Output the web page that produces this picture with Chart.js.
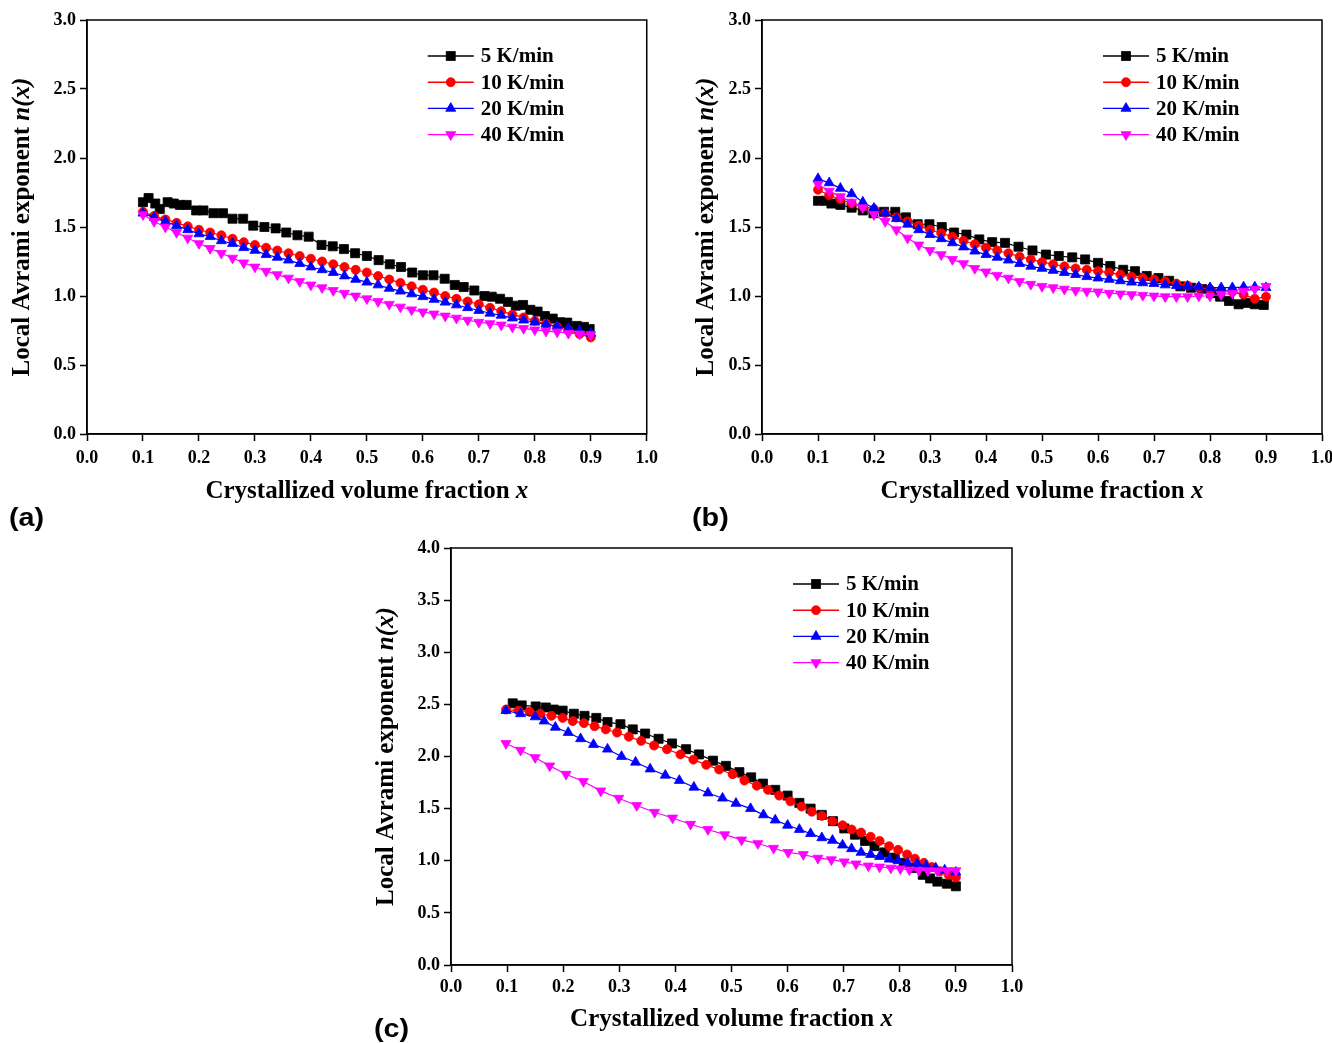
<!DOCTYPE html>
<html><head><meta charset="utf-8">
<script src="https://cdn.jsdelivr.net/npm/chart.js@4"></script>
<style>
html,body{margin:0;padding:0;background:#fff;width:1332px;height:1043px;overflow:hidden;position:relative;}
canvas{position:absolute;display:block;}
.lbl{position:absolute;font-family:'Liberation Sans',Arial,sans-serif;font-weight:bold;font-size:25px;color:#000;line-height:28px;z-index:5;transform-origin:0 0;transform:scaleX(1.15);}
</style></head><body>
<canvas id="ca" width="665" height="510" style="left:0;top:0"></canvas>
<canvas id="cb" width="675" height="510" style="left:675px;top:0"></canvas>
<canvas id="cc" width="665" height="510" style="left:365px;top:530px"></canvas>
<div class="lbl" style="left:9px;top:503px">(a)</div>
<div class="lbl" style="left:692px;top:503px">(b)</div>
<div class="lbl" style="left:374px;top:1014px">(c)</div>
<script>
// ---------- data ----------
const seriesLabels = ['5 K/min', '10 K/min', '20 K/min', '40 K/min'];
const xTicks = ['0.0','0.1','0.2','0.3','0.4','0.5','0.6','0.7','0.8','0.9','1.0'];
const yTicksAB = ['0.0','0.5','1.0','1.5','2.0','2.5','3.0'];
const yTicksC = ['0.0','0.5','1.0','1.5','2.0','2.5','3.0','3.5','4.0'];

const gridX = [0.10,0.12,0.14,0.16,0.18,0.20,0.22,0.24,0.26,0.28,0.30,0.32,0.34,0.36,0.38,0.40,0.42,0.44,0.46,0.48,0.50,0.52,0.54,0.56,0.58,0.60,0.62,0.64,0.66,0.68,0.70,0.72,0.74,0.76,0.78,0.80,0.82,0.84,0.86,0.88,0.90];

// panel (a)
const aBlackX = [0.100,0.110,0.122,0.130,0.144,0.155,0.166,0.178,0.195,0.208,0.226,0.243,0.260,0.279,0.297,0.317,0.337,0.356,0.376,0.396,0.419,0.439,0.459,0.479,0.500,0.521,0.541,0.561,0.581,0.600,0.619,0.639,0.657,0.673,0.692,0.710,0.723,0.738,0.752,0.766,0.779,0.792,0.805,0.818,0.832,0.845,0.858,0.875,0.888,0.898];
const aBlackY = [1.68,1.71,1.67,1.63,1.68,1.67,1.66,1.66,1.62,1.62,1.60,1.60,1.56,1.56,1.51,1.50,1.49,1.46,1.44,1.43,1.37,1.36,1.34,1.31,1.29,1.26,1.23,1.21,1.17,1.15,1.15,1.125,1.08,1.065,1.04,1.00,0.995,0.98,0.957,0.93,0.935,0.90,0.887,0.855,0.836,0.81,0.807,0.783,0.776,0.76];
const aRedY = [1.61,1.58,1.555,1.53,1.505,1.48,1.46,1.44,1.415,1.39,1.37,1.35,1.33,1.31,1.29,1.27,1.25,1.23,1.21,1.19,1.17,1.145,1.12,1.095,1.07,1.045,1.025,1.00,0.98,0.96,0.94,0.915,0.89,0.865,0.845,0.82,0.80,0.775,0.75,0.725,0.70];
const aBlueY = [1.60,1.57,1.54,1.51,1.48,1.45,1.43,1.40,1.38,1.35,1.33,1.30,1.28,1.26,1.235,1.21,1.19,1.17,1.145,1.12,1.10,1.08,1.055,1.035,1.015,0.995,0.975,0.955,0.935,0.915,0.895,0.875,0.86,0.84,0.825,0.81,0.795,0.78,0.765,0.75,0.73];
const aPinkY = [1.59,1.54,1.50,1.46,1.42,1.38,1.345,1.31,1.275,1.24,1.21,1.18,1.155,1.13,1.105,1.08,1.06,1.04,1.02,1.00,0.98,0.96,0.94,0.92,0.90,0.885,0.87,0.855,0.84,0.825,0.81,0.80,0.79,0.775,0.765,0.755,0.745,0.74,0.73,0.725,0.72];

// panel (b)
const bBlackX = [0.100,0.114,0.124,0.140,0.160,0.180,0.199,0.218,0.238,0.257,0.278,0.299,0.321,0.343,0.365,0.388,0.411,0.434,0.458,0.483,0.507,0.530,0.554,0.577,0.600,0.622,0.645,0.666,0.687,0.708,0.727,0.747,0.766,0.786,0.802,0.818,0.834,0.851,0.864,0.880,0.896];
const bBlackY = [1.69,1.69,1.67,1.66,1.64,1.62,1.60,1.61,1.61,1.57,1.52,1.52,1.50,1.46,1.445,1.41,1.39,1.385,1.357,1.33,1.30,1.29,1.28,1.265,1.24,1.217,1.19,1.18,1.145,1.13,1.11,1.07,1.06,1.05,1.02,0.995,0.964,0.94,0.95,0.94,0.935];
const bRedY = [1.77,1.73,1.70,1.67,1.65,1.63,1.60,1.57,1.54,1.51,1.48,1.455,1.43,1.40,1.375,1.35,1.33,1.31,1.285,1.265,1.245,1.23,1.215,1.20,1.19,1.18,1.17,1.155,1.14,1.13,1.12,1.105,1.09,1.075,1.06,1.05,1.04,1.03,1.01,0.98,0.995];
const bBlueY = [1.85,1.82,1.78,1.74,1.68,1.635,1.60,1.56,1.52,1.48,1.445,1.415,1.385,1.355,1.325,1.30,1.28,1.26,1.235,1.215,1.20,1.185,1.17,1.155,1.14,1.13,1.12,1.11,1.10,1.095,1.09,1.08,1.075,1.07,1.065,1.06,1.06,1.06,1.065,1.065,1.06];
const bPinkY = [1.81,1.76,1.72,1.68,1.64,1.59,1.54,1.48,1.42,1.37,1.33,1.30,1.265,1.235,1.20,1.175,1.15,1.13,1.105,1.085,1.07,1.06,1.05,1.04,1.035,1.03,1.02,1.015,1.01,1.005,1.00,0.995,0.995,0.995,1.00,1.00,1.01,1.02,1.035,1.05,1.07];

// panel (c)
const cBlackX = [0.110,0.126,0.151,0.169,0.183,0.199,0.219,0.238,0.259,0.279,0.302,0.324,0.346,0.370,0.394,0.419,0.442,0.467,0.490,0.514,0.535,0.556,0.578,0.600,0.621,0.641,0.661,0.681,0.701,0.720,0.738,0.755,0.773,0.791,0.807,0.824,0.841,0.854,0.867,0.884,0.900];
const cBlackY = [2.51,2.49,2.48,2.47,2.45,2.44,2.41,2.39,2.37,2.33,2.31,2.26,2.22,2.17,2.125,2.07,2.02,1.96,1.91,1.85,1.80,1.74,1.68,1.625,1.555,1.50,1.44,1.38,1.31,1.25,1.19,1.14,1.08,1.03,0.98,0.93,0.865,0.83,0.80,0.78,0.755];
const cRedX = [0.098,0.120,0.140,0.159,0.179,0.199,0.217,0.237,0.256,0.276,0.296,0.317,0.339,0.362,0.385,0.409,0.432,0.455,0.478,0.502,0.523,0.545,0.565,0.585,0.605,0.625,0.643,0.661,0.680,0.698,0.714,0.731,0.748,0.764,0.781,0.797,0.813,0.827,0.843,0.857,0.872,0.887,0.900];
const cRedY = [2.45,2.44,2.43,2.41,2.39,2.37,2.34,2.32,2.29,2.26,2.23,2.19,2.15,2.105,2.07,2.02,1.97,1.92,1.875,1.83,1.77,1.72,1.68,1.625,1.57,1.52,1.47,1.43,1.38,1.34,1.30,1.27,1.23,1.19,1.14,1.105,1.06,1.02,0.98,0.94,0.90,0.865,0.84];
const cBlueX = [0.098,0.124,0.150,0.166,0.186,0.209,0.231,0.254,0.279,0.304,0.329,0.355,0.382,0.407,0.433,0.458,0.484,0.508,0.534,0.557,0.578,0.600,0.621,0.641,0.661,0.680,0.698,0.714,0.731,0.748,0.764,0.781,0.797,0.814,0.831,0.847,0.864,0.880,0.900];
const cBlueY = [2.44,2.41,2.38,2.34,2.28,2.23,2.17,2.115,2.07,2.00,1.945,1.88,1.82,1.77,1.705,1.65,1.60,1.55,1.50,1.44,1.39,1.34,1.30,1.26,1.22,1.195,1.15,1.115,1.08,1.06,1.04,1.015,1.00,0.98,0.97,0.95,0.93,0.91,0.89];
const cPinkX = [0.098,0.124,0.150,0.176,0.205,0.236,0.267,0.299,0.331,0.363,0.395,0.427,0.458,0.488,0.518,0.547,0.575,0.601,0.628,0.654,0.678,0.701,0.722,0.744,0.764,0.784,0.801,0.817,0.834,0.850,0.867,0.884,0.900];
const cPinkY = [2.125,2.06,1.99,1.91,1.83,1.76,1.67,1.60,1.53,1.465,1.41,1.35,1.30,1.25,1.20,1.165,1.12,1.08,1.06,1.025,1.01,0.99,0.97,0.95,0.94,0.93,0.923,0.913,0.907,0.905,0.903,0.905,0.905];

// ---------- styling ----------
const COLORS = ['#000000', '#ff0000', '#0000ff', '#ff00ff'];
const STYLES = [
  {pointStyle:'rect', radius:6.4, rotation:0},
  {pointStyle:'circle', radius:4.5, rotation:0},
  {pointStyle:'triangle', radius:5.8, rotation:0},
  {pointStyle:'triangle', radius:5.8, rotation:180}
];
const SERIF = "'Liberation Serif','Times New Roman',serif";

function pts(xs, ys){ return xs.map((x,i)=>({x:x, y:ys[i]})); }

function drawParts(ctx, parts, size){
  let total = 0;
  const widths = parts.map(p=>{ ctx.font = (p[1]?'italic ':'') + 'bold ' + size + 'px ' + SERIF; const w = ctx.measureText(p[0]).width; total += w; return w; });
  let x = -total/2;
  parts.forEach((p,i)=>{ ctx.font = (p[1]?'italic ':'') + 'bold ' + size + 'px ' + SERIF; ctx.fillText(p[0], x, 0); x += widths[i]; });
}

function makeChart(id, series, yMax, yTickLabels, cfg){
  const datasets = series.map((s,i)=>({
    label: seriesLabels[i],
    data: pts(s[0], s[1]),
    borderColor: COLORS[i],
    backgroundColor: COLORS[i],
    borderWidth: 1.2,
    pointStyle: STYLES[i].pointStyle,
    pointRadius: STYLES[i].radius,
    pointRotation: STYLES[i].rotation,
    pointBorderWidth: 0.8,
    pointBorderColor: COLORS[i],
    pointBackgroundColor: COLORS[i],
    tension: 0,
    fill: false,
    order: 4 - i
  }));
  const frame = {
    id: 'frame',
    afterDraw(chart){
      const ctx = chart.ctx, a = chart.chartArea;
      ctx.save();
      ctx.strokeStyle = '#000'; ctx.lineWidth = 1.5;
      ctx.strokeRect(a.left, a.top, a.right - a.left, a.bottom - a.top);
      // legend
      chart.data.datasets.forEach((d, i)=>{
        const y = a.top + 36 + i * 26.2;
        const x0 = a.right - 219, x1 = a.right - 173;
        ctx.strokeStyle = d.borderColor; ctx.lineWidth = 1.4;
        ctx.beginPath(); ctx.moveTo(x0, y); ctx.lineTo(x1, y); ctx.stroke();
        ctx.fillStyle = d.backgroundColor; ctx.strokeStyle = d.borderColor; ctx.lineWidth = 0.8;
        Chart.helpers.drawPoint(ctx, {pointStyle: d.pointStyle, rotation: d.pointRotation, radius: d.pointRadius, borderWidth: 0.8}, (x0 + x1)/2, y);
        ctx.fillStyle = '#000';
        ctx.font = 'bold 21px ' + SERIF;
        ctx.textAlign = 'left'; ctx.textBaseline = 'middle';
        ctx.fillText(d.label, a.right - 166, y + 1);
      });
      // axis titles
      ctx.fillStyle = '#000'; ctx.textAlign = 'left'; ctx.textBaseline = 'middle';
      ctx.save();
      ctx.translate((a.left + a.right)/2, cfg.xTitleY);
      drawParts(ctx, [['Crystallized volume fraction ', false], ['x', true]], 25);
      ctx.restore();
      ctx.save();
      ctx.translate(cfg.yTitleX, (a.top + a.bottom)/2);
      ctx.rotate(-Math.PI/2);
      drawParts(ctx, [['Local Avrami exponent ', false], ['n', true], ['(', true], ['x', true], [')', true]], 25);
      ctx.restore();
      ctx.restore();
    }
  };
  const tickFont = {family: SERIF, weight: 'bold', size: 18};
  return new Chart(document.getElementById(id), {
    type: 'line',
    data: {datasets},
    options: {
      responsive: false,
      animation: false,
      events: [],
      layout: {padding: {left: 0, right: cfg.padRight, top: cfg.padTop, bottom: 0}},
      plugins: {legend: {display: false}, tooltip: {enabled: false}},
      scales: {
        x: {
          type: 'linear', min: 0, max: 1,
          afterFit(s){ s.height = cfg.xAxisH; },
          ticks: {stepSize: 0.1, color: '#000', font: tickFont, padding: cfg.xTickPad, maxRotation: 0,
                  callback: (v, i) => xTicks[i]},
          grid: {display: true, drawOnChartArea: false, drawTicks: true, tickLength: 7, tickWidth: 1.5, tickColor: '#000', color: '#000'},
          border: {display: true, color: '#000', width: 1.5}
        },
        y: {
          type: 'linear', min: 0, max: yMax,
          afterFit(s){ s.width = cfg.yAxisW; },
          ticks: {stepSize: 0.5, color: '#000', font: tickFont, padding: 4,
                  callback: (v, i) => yTickLabels[i]},
          grid: {display: true, drawOnChartArea: false, drawTicks: true, tickLength: 7, tickWidth: 1.5, tickColor: '#000', color: '#000'},
          border: {display: true, color: '#000', width: 1.5}
        }
      }
    },
    plugins: [frame]
  });
}

makeChart('ca', [[aBlackX, aBlackY], [gridX, aRedY], [gridX, aBlueY], [gridX, aPinkY]], 3, yTicksAB,
  {padRight: 17, padTop: 20, xAxisH: 76, yAxisW: 87, xTickPad: 7, xTitleY: 492, yTitleX: 23});
makeChart('cb', [[bBlackX, bBlackY], [gridX, bRedY], [gridX, bBlueY], [gridX, bPinkY]], 3, yTicksAB,
  {padRight: 28, padTop: 20, xAxisH: 76, yAxisW: 87, xTickPad: 7, xTitleY: 492, yTitleX: 32});
makeChart('cc', [[cBlackX, cBlackY], [cRedX, cRedY], [cBlueX, cBlueY], [cPinkX, cPinkY]], 4, yTicksC,
  {padRight: 18, padTop: 18, xAxisH: 75, yAxisW: 86, xTickPad: 5, xTitleY: 490, yTitleX: 22});
</script>
</body></html>
